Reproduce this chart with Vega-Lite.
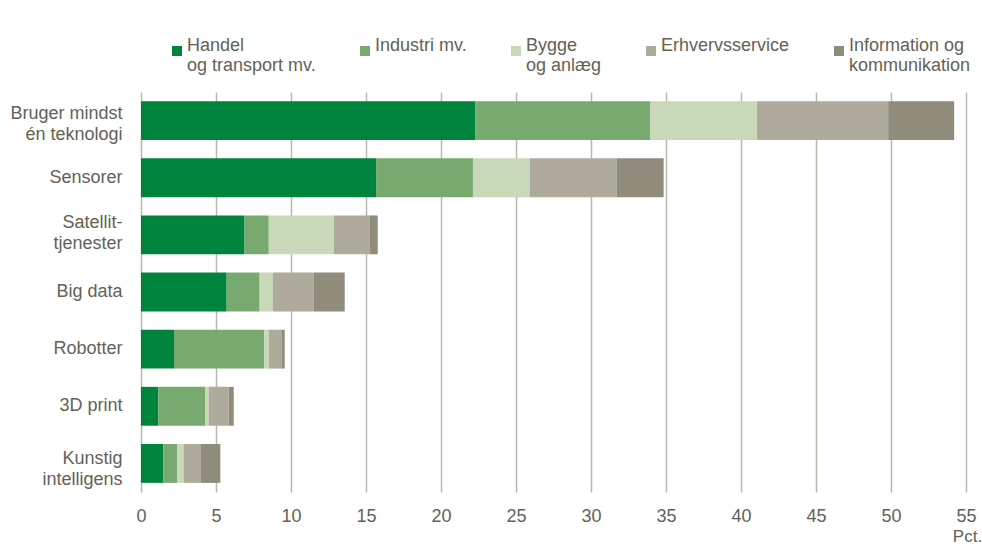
{
  "$schema": "https://vega.github.io/schema/vega-lite/v6.json",
  "width": 825,
  "height": 400,
  "autosize": "none",
  "padding": {"left": 141, "top": 92, "right": 16, "bottom": 52},
  "background": "white",
  "config": {
    "font": "Liberation Sans Narrow, Arial Narrow, Liberation Sans, sans-serif",
    "view": {"stroke": null}
  },
  "data": {
    "values": [
      {"teknologi": "Bruger mindst én teknologi", "sektor": "Handel og transport mv.", "pct": 22.3},
      {"teknologi": "Bruger mindst én teknologi", "sektor": "Industri mv.", "pct": 11.66},
      {"teknologi": "Bruger mindst én teknologi", "sektor": "Bygge og anlæg", "pct": 7.11},
      {"teknologi": "Bruger mindst én teknologi", "sektor": "Erhvervsservice", "pct": 8.74},
      {"teknologi": "Bruger mindst én teknologi", "sektor": "Information og kommunikation", "pct": 4.4},
      {"teknologi": "Sensorer", "sektor": "Handel og transport mv.", "pct": 15.67},
      {"teknologi": "Sensorer", "sektor": "Industri mv.", "pct": 6.46},
      {"teknologi": "Sensorer", "sektor": "Bygge og anlæg", "pct": 3.79},
      {"teknologi": "Sensorer", "sektor": "Erhvervsservice", "pct": 5.78},
      {"teknologi": "Sensorer", "sektor": "Information og kommunikation", "pct": 3.14},
      {"teknologi": "Satellit-tjenester", "sektor": "Handel og transport mv.", "pct": 6.9},
      {"teknologi": "Satellit-tjenester", "sektor": "Industri mv.", "pct": 1.62},
      {"teknologi": "Satellit-tjenester", "sektor": "Bygge og anlæg", "pct": 4.33},
      {"teknologi": "Satellit-tjenester", "sektor": "Erhvervsservice", "pct": 2.38},
      {"teknologi": "Satellit-tjenester", "sektor": "Information og kommunikation", "pct": 0.55},
      {"teknologi": "Big data", "sektor": "Handel og transport mv.", "pct": 5.71},
      {"teknologi": "Big data", "sektor": "Industri mv.", "pct": 2.2},
      {"teknologi": "Big data", "sektor": "Bygge og anlæg", "pct": 0.87},
      {"teknologi": "Big data", "sektor": "Erhvervsservice", "pct": 2.75},
      {"teknologi": "Big data", "sektor": "Information og kommunikation", "pct": 2.05},
      {"teknologi": "Robotter", "sektor": "Handel og transport mv.", "pct": 2.2},
      {"teknologi": "Robotter", "sektor": "Industri mv.", "pct": 6.02},
      {"teknologi": "Robotter", "sektor": "Bygge og anlæg", "pct": 0.31},
      {"teknologi": "Robotter", "sektor": "Erhvervsservice", "pct": 0.87},
      {"teknologi": "Robotter", "sektor": "Information og kommunikation", "pct": 0.18},
      {"teknologi": "3D print", "sektor": "Handel og transport mv.", "pct": 1.16},
      {"teknologi": "3D print", "sektor": "Industri mv.", "pct": 3.13},
      {"teknologi": "3D print", "sektor": "Bygge og anlæg", "pct": 0.22},
      {"teknologi": "3D print", "sektor": "Erhvervsservice", "pct": 1.33},
      {"teknologi": "3D print", "sektor": "Information og kommunikation", "pct": 0.34},
      {"teknologi": "Kunstig intelligens", "sektor": "Handel og transport mv.", "pct": 1.49},
      {"teknologi": "Kunstig intelligens", "sektor": "Industri mv.", "pct": 0.93},
      {"teknologi": "Kunstig intelligens", "sektor": "Bygge og anlæg", "pct": 0.42},
      {"teknologi": "Kunstig intelligens", "sektor": "Erhvervsservice", "pct": 1.16},
      {"teknologi": "Kunstig intelligens", "sektor": "Information og kommunikation", "pct": 1.29}
    ]
  },
  "transform": [
    {"calculate": "indexof(['Handel og transport mv.','Industri mv.','Bygge og anlæg','Erhvervsservice','Information og kommunikation'], datum.sektor)", "as": "rk"}
  ],
  "mark": {"type": "bar"},
  "encoding": {
    "y": {
      "field": "teknologi",
      "type": "nominal",
      "sort": ["Bruger mindst én teknologi", "Sensorer", "Satellit-tjenester", "Big data", "Robotter", "3D print", "Kunstig intelligens"],
      "scale": {"paddingInner": 0.32, "paddingOuter": 0.16},
      "axis": {
        "title": null,
        "domain": false,
        "ticks": false,
        "labelPadding": 19,
        "labelFontSize": 18,
        "labelColor": "#626256",
        "labelLineHeight": 21,
        "labelBaseline": "middle",
        "labelOffset": {"condition": [
          {"test": "datum.value == 'Bruger mindst én teknologi'", "value": -7},
          {"test": "datum.value == 'Satellit-tjenester'", "value": -12},
          {"test": "datum.value == 'Kunstig intelligens'", "value": -4}
        ], "value": 0},
        "labelExpr": "datum.label == 'Bruger mindst én teknologi' ? ['Bruger mindst', 'én teknologi'] : datum.label == 'Satellit-tjenester' ? ['Satellit-', 'tjenester'] : datum.label == 'Kunstig intelligens' ? ['Kunstig', 'intelligens'] : datum.label"
      }
    },
    "x": {
      "field": "pct",
      "type": "quantitative",
      "stack": "zero",
      "scale": {"domain": [0, 55], "nice": false},
      "axis": {
        "values": [0, 5, 10, 15, 20, 25, 30, 35, 40, 45, 50, 55],
        "domain": false,
        "ticks": false,
        "grid": true,
        "gridColor": "#b9b8aa",
        "gridWidth": 1.5,
        "labelFlush": false,
        "labelFontSize": 18,
        "labelColor": "#626256",
        "labelPadding": 15,
        "title": "Pct.",
        "titleFontSize": 17,
        "titleFontWeight": "normal",
        "titleColor": "#626256",
        "titleX": 826,
        "titleY": 36,
        "titleAlign": "center",
        "titleBaseline": "top"
      }
    },
    "color": {
      "field": "sektor",
      "type": "nominal",
      "scale": {
        "domain": ["Handel og transport mv.", "Industri mv.", "Bygge og anlæg", "Erhvervsservice", "Information og kommunikation"],
        "range": ["#00843d", "#78aa70", "#c8d8b8", "#aeab9c", "#8f8c7c"]
      },
      "legend": {
        "title": null,
        "orient": "none",
        "direction": "horizontal",
        "legendX": 27,
        "legendY": -50,
        "symbolType": "square",
        "symbolSize": 100,
        "symbolStrokeWidth": 0,
        "labelFontSize": 18,
        "labelColor": "#626256",
        "labelLineHeight": 22,
        "labelBaseline": "alphabetic",
        "labelOffset": 1,
        "columnPadding": 40,
        "labelLimit": 300,
        "labelExpr": "datum.label == 'Handel og transport mv.' ? ['Handel', 'og transport mv.'] : datum.label == 'Bygge og anlæg' ? ['Bygge', 'og anlæg'] : datum.label == 'Information og kommunikation' ? ['Information og', 'kommunikation'] : [datum.label, '']"
      }
    },
    "order": {"field": "rk", "type": "quantitative"}
  }
}
